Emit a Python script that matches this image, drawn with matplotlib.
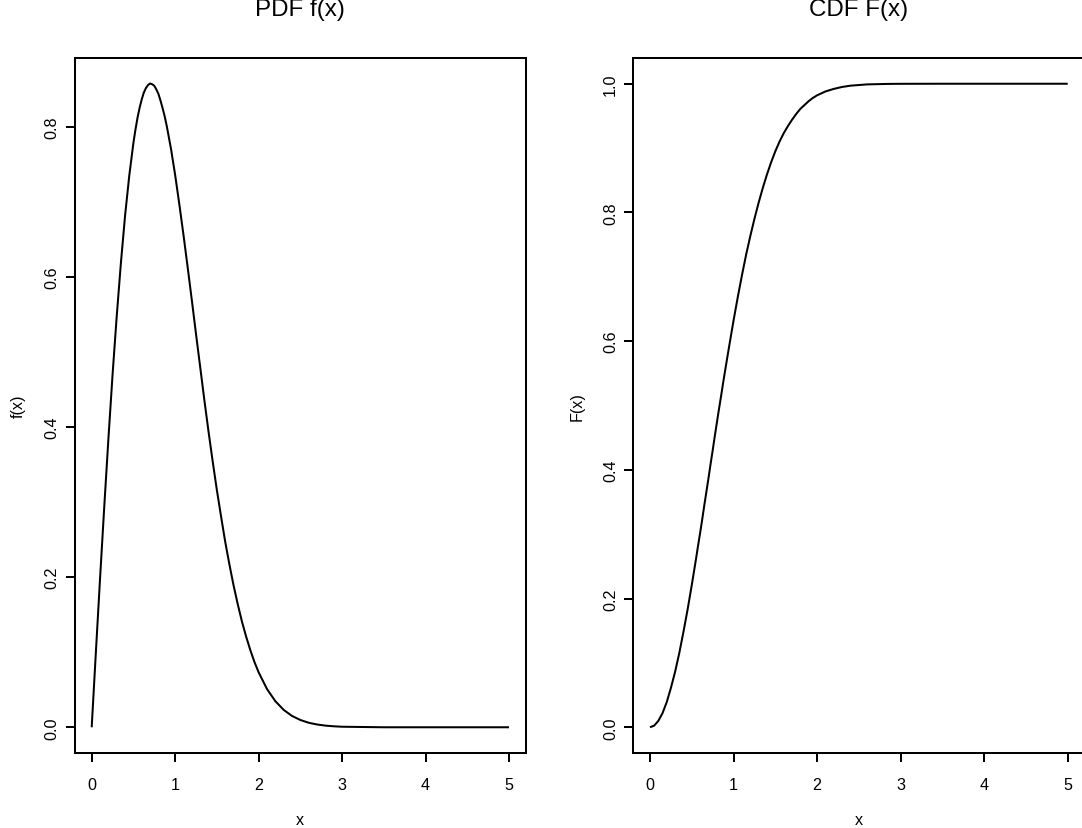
import matplotlib
matplotlib.use("Agg")
import matplotlib.pyplot as plt

plt.rcParams['font.family'] = ['Liberation Sans', 'DejaVu Sans']

# values
x = [0.0, 0.05, 0.1, 0.15, 0.2, 0.25, 0.3, 0.35, 0.4, 0.45, 0.5, 0.525, 0.55, 0.575,
     0.6, 0.625, 0.65, 0.675, 0.7, 0.725, 0.75, 0.775, 0.8, 0.825, 0.85, 0.875,
     0.9, 0.95, 1.0, 1.05, 1.1, 1.15, 1.2, 1.25, 1.3, 1.35,
     1.4, 1.45, 1.5, 1.55, 1.6, 1.65, 1.7, 1.75, 1.8, 1.85, 1.9, 1.95, 2.0,
     2.1, 2.2, 2.3, 2.4, 2.5, 2.6, 2.7, 2.8, 2.9, 3.0, 3.5, 4.0, 4.5, 5.0]
pdf = [0.0, 0.0998, 0.198, 0.293, 0.384, 0.470, 0.548, 0.619, 0.682, 0.735, 0.779,
       0.797, 0.813, 0.826, 0.837, 0.846, 0.852, 0.856, 0.858, 0.857, 0.855, 0.850,
       0.844, 0.835, 0.825, 0.814, 0.801, 0.771, 0.736, 0.697,
       0.656, 0.613, 0.569, 0.524, 0.480, 0.436, 0.394, 0.354, 0.316, 0.281, 0.247,
       0.217, 0.189, 0.164, 0.141, 0.121, 0.103, 0.087, 0.0733,
       0.051, 0.0348, 0.0232, 0.0151, 0.0097, 0.006, 0.0037, 0.0022, 0.0013, 0.0007,
       0.0, 0.0, 0.0, 0.0]
cdf = [0.0, 0.0025, 0.010, 0.022, 0.039, 0.061, 0.086, 0.115, 0.148, 0.183, 0.221,
       0.241, 0.261, 0.282, 0.302, 0.323, 0.345, 0.366, 0.387, 0.409, 0.430, 0.452,
       0.473, 0.494, 0.514, 0.535, 0.555, 0.594, 0.632, 0.668,
       0.702, 0.734, 0.763, 0.790, 0.815, 0.838, 0.859, 0.878, 0.895, 0.910, 0.923,
       0.934, 0.944, 0.953, 0.961, 0.967, 0.973, 0.978, 0.982,
       0.988, 0.992, 0.995, 0.997, 0.998, 0.999, 0.9993, 0.9996, 0.9998, 0.9999,
       1.0, 1.0, 1.0, 1.0]

xticks = [0, 1, 2, 3, 4, 5]
pdf_yticks = [0.0, 0.2, 0.4, 0.6, 0.8]
cdf_yticks = [0.0, 0.2, 0.4, 0.6, 0.8, 1.0]

fig = plt.figure(figsize=(10.82, 8.29), dpi=100)
ax1 = fig.add_axes([75/1082, 75/829, 450.7/1082, 695/829])
ax2 = fig.add_axes([633.3/1082, 75/829, 451.1/1082, 695/829])

lw = 1.45
panels = [(ax1, pdf, pdf_yticks, "PDF f(x)", "f(x)", (-0.0343, 0.892)),
          (ax2, cdf, cdf_yticks, "CDF F(x)", "F(x)", (-0.04, 1.04))]

for ax, y, yt, title, ylab, ylim in panels:
    ax.plot(x, y, color='black', lw=lw, solid_joinstyle='round', solid_capstyle='butt')
    ax.set_xlim(-0.2, 5.2)
    ax.set_ylim(*ylim)
    ax.set_xticks(xticks)
    ax.set_yticks(yt)
    ax.set_yticklabels(["%.1f" % v for v in yt], rotation=90, va='center')
    ax.tick_params(direction='out', length=6.5, width=lw, labelsize=11.6, pad=10.5)
    ax.tick_params(axis='y', pad=4.5)
    for s in ax.spines.values():
        s.set_linewidth(lw)
    ax.set_title(title, fontsize=17.4, y=1.050)
    ax.set_xlabel("x", fontsize=11.6, va='center')
    ax.xaxis.set_label_coords(0.5, -0.0964)
    ax.set_ylabel(ylab, fontsize=11.6, va='center')
    ax.yaxis.set_label_coords(-0.125, 0.5)

plt.savefig('out.png', dpi=100)
